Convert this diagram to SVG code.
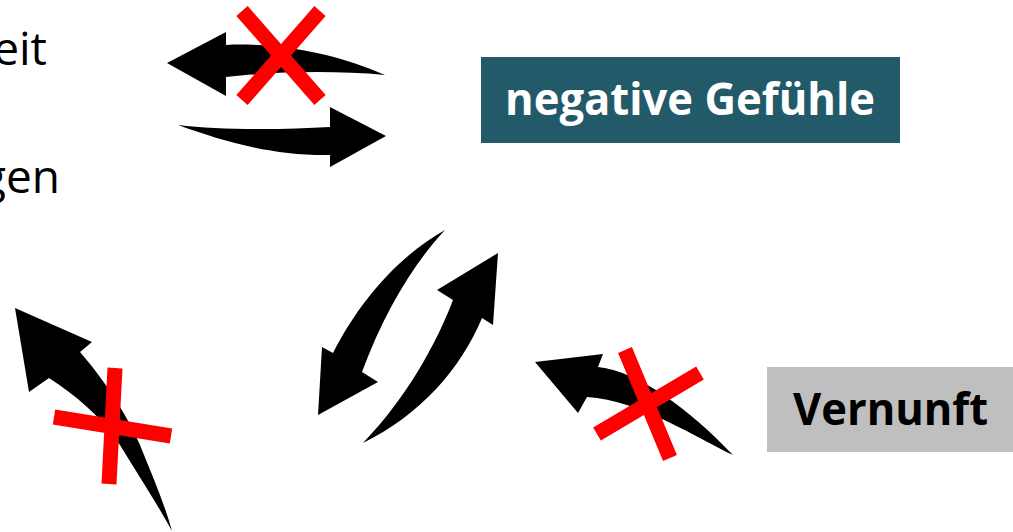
<svg xmlns="http://www.w3.org/2000/svg" width="1013" height="532" viewBox="0 0 1013 532">
<style>
.arrow{fill:#000;stroke:none}
.cross{stroke:#ff0000;stroke-width:15;stroke-linecap:butt;fill:none}
.side{font-family:"Open Sans","Liberation Sans",sans-serif;font-size:46px;fill:#000}
.lbl{font-family:"Open Sans","Liberation Sans",sans-serif;font-size:45px;font-weight:bold}
</style>
<rect width="1013" height="532" fill="#fff"/>
<g id="side-text">
<text class="side" x="47" y="65" text-anchor="end">eit</text>
<text class="side" x="60" y="193" text-anchor="end">gen</text>
</g>
<g id="negative-gefuehle">
<rect x="481" y="57" width="419" height="86" fill="#235a69"/>
<text class="lbl" x="505" y="115" fill="#fff" textLength="370" lengthAdjust="spacingAndGlyphs">negative Gefühle</text>
</g>
<g id="vernunft">
<rect x="767" y="367" width="246" height="85" fill="#bfbfbf"/>
<text class="lbl" x="793" y="425" fill="#000" textLength="195" lengthAdjust="spacingAndGlyphs">Vernunft</text>
</g>
<g id="connectors">
<path class="arrow" d="M167,63 L226,32 L226,45 C280,42 340,55 385,75 C330,70 270,72 226,77 L226,96 Z"/>
<path class="arrow" d="M386,136 L330,107 L330,127 C280,130 220,130 178,125 C220,140 270,156 330,155 L330,167 Z"/>
<path class="arrow" d="M15,308 L92,342 L80,352 C100,375 125,410 140,445 C152,475 165,505 172,531 C155,500 135,470 120,445 C100,415 75,395 49,378 L29,392 Z"/>
<path class="arrow" d="M318,415 L322,347 L333,353 C360,300 400,255 445,230 C415,262 385,310 362,372 L378,382 Z"/>
<path class="arrow" d="M498,253 L493,325 L482,318 C460,370 420,415 363,443 C395,410 430,360 453,300 L437,290 Z"/>
<path class="arrow" d="M535,362 L603,354 L598,367 C640,372 690,410 733,455 C700,440 640,400 587,397 L578,413 Z"/>
</g>
<g id="crosses">
<path class="cross" d="M242,11 L320,100 M320,11 L242,100"/>
<path class="cross" d="M115,368 L109,484 M54,417 L171,436"/>
<path class="cross" d="M625,350 L670,458 M700,373 L597,434"/>
</g>
</svg>
